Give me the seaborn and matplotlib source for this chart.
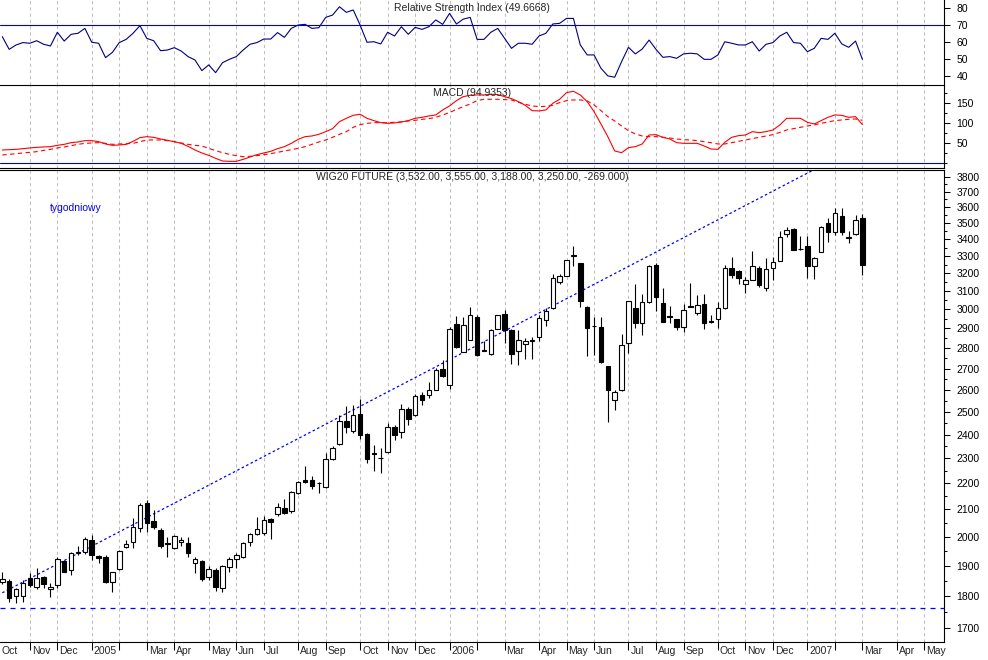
import numpy as np
import pandas as pd
import matplotlib
matplotlib.use("Agg")
import matplotlib.pyplot as plt
import matplotlib.ticker as mticker
from matplotlib.transforms import ScaledTranslation, blended_transform_factory
import seaborn as sns

# weekly bars, week ending on Friday
weeks = pd.date_range("2004-10-08", periods=126, freq="W-FRI")

opens = [1844, 1848, 1800, 1800, 1857, 1829, 1862, 1823, 1837, 1916,
         1885, 1944, 1948, 1989, 1934, 1931, 1846, 1888, 1963, 1983,
         2031, 2125, 2059, 2025, 1979, 1960, 1982, 1977, 1908, 1916,
         1861, 1885, 1826, 1895, 1923, 1929, 1980, 2009, 2013, 2065,
         2083, 2104, 2095, 2161, 2214, 2214, 2200, 2185, 2297, 2359,
         2460, 2414, 2491, 2404, 2322, 2300, 2325, 2433, 2411, 2512,
         2484, 2574, 2576, 2600, 2699, 2620, 2925, 2783, 2843, 2962,
         2792, 2771, 2897, 2978, 2894, 2787, 2820, 2838, 2855, 2943,
         3007, 3148, 3182, 3302, 3259, 3012, 2913, 2907, 2713, 2552,
         2597, 2828, 3006, 2927, 3039, 3250, 3035, 2966, 2949, 2910,
         3018, 2979, 3030, 2938, 2947, 3006, 3233, 3214, 3138, 3161,
         3233, 3118, 3229, 3273, 3431, 3463, 3340, 3360, 3239, 3323,
         3502, 3443, 3544, 3410, 3430, 3532]
highs = [1880, 1854, 1824, 1852, 1874, 1891, 1865, 1841, 1929, 1919,
         1948, 1966, 1998, 2006, 1937, 1937, 1880, 1954, 1989, 2070,
         2123, 2136, 2098, 2031, 2001, 2007, 2001, 2001, 1931, 1919,
         1897, 1891, 1903, 1929, 1943, 1981, 2015, 2073, 2076, 2067,
         2126, 2138, 2171, 2211, 2270, 2231, 2207, 2324, 2352, 2484,
         2524, 2532, 2558, 2407, 2357, 2342, 2450, 2440, 2536, 2520,
         2580, 2590, 2638, 2702, 2743, 2910, 2966, 2958, 3014, 2970,
         2836, 2897, 2972, 2998, 2898, 2890, 2853, 2855, 2972, 3007,
         3197, 3195, 3279, 3357, 3262, 3016, 2962, 2962, 2713, 2600,
         2871, 3047, 3140, 3085, 3250, 3260, 3116, 3021, 2949, 3030,
         3144, 3079, 3083, 2970, 3042, 3248, 3297, 3220, 3181, 3327,
         3240, 3287, 3297, 3451, 3477, 3467, 3422, 3422, 3297, 3481,
         3533, 3596, 3592, 3451, 3550, 3555]
lows = [1840, 1779, 1777, 1782, 1830, 1821, 1824, 1796, 1827, 1877,
        1870, 1937, 1941, 1918, 1908, 1843, 1814, 1884, 1960, 1960,
        2016, 2016, 2027, 1960, 1931, 1956, 1966, 1931, 1874, 1850,
        1852, 1817, 1814, 1880, 1893, 1925, 1968, 2005, 2005, 1991,
        2075, 2083, 2088, 2157, 2200, 2180, 2164, 2181, 2292, 2356,
        2407, 2407, 2383, 2282, 2248, 2241, 2321, 2379, 2385, 2440,
        2479, 2530, 2560, 2597, 2661, 2605, 2800, 2783, 2843, 2759,
        2784, 2764, 2897, 2824, 2721, 2718, 2748, 2748, 2838, 2914,
        3003, 3141, 3182, 3244, 3012, 2759, 2767, 2729, 2454, 2508,
        2592, 2777, 2905, 2866, 3035, 2990, 2936, 2927, 2893, 2884,
        3012, 2970, 2897, 2930, 2901, 3003, 3172, 3138, 3092, 3161,
        3125, 3098, 3161, 3273, 3416, 3336, 3336, 3172, 3170, 3323,
        3386, 3423, 3426, 3376, 3426, 3188]
closes = [1854, 1792, 1821, 1843, 1837, 1859, 1839, 1830, 1923, 1880,
          1943, 1946, 1992, 1935, 1925, 1846, 1877, 1951, 1974, 2035,
          2116, 2049, 2034, 1969, 1976, 2003, 1989, 1943, 1922, 1854,
          1888, 1830, 1897, 1923, 1937, 1977, 2011, 2029, 2061, 2055,
          2108, 2085, 2165, 2207, 2207, 2190, 2203, 2297, 2342, 2457,
          2431, 2484, 2400, 2296, 2320, 2303, 2433, 2397, 2512, 2467,
          2573, 2552, 2597, 2694, 2666, 2897, 2804, 2920, 2971, 2767,
          2784, 2891, 2972, 2894, 2771, 2841, 2836, 2840, 2955, 2993,
          3173, 3186, 3279, 3303, 3044, 2902, 2915, 2734, 2600, 2589,
          2816, 3044, 2927, 3039, 3240, 3065, 2936, 2962, 2910, 2995,
          3012, 3025, 2927, 2935, 3006, 3229, 3191, 3172, 3161, 3242,
          3133, 3225, 3267, 3412, 3457, 3336, 3342, 3239, 3291, 3477,
          3447, 3561, 3447, 3412, 3519, 3250]

rsi = [63.1, 55.6, 58.2, 59.6, 59.2, 60.7, 58.6, 57.6, 65.7, 60.5,
       64.5, 65.1, 68.0, 59.8, 59.2, 50.7, 53.8, 59.6, 61.5, 65.1,
       69.6, 62.1, 60.7, 54.8, 55.2, 56.6, 54.6, 51.3, 49.3, 43.0,
       46.4, 41.8, 47.7, 49.7, 51.3, 55.2, 58.6, 59.6, 61.7, 61.7,
       65.5, 62.7, 68.0, 70.0, 70.4, 68.0, 68.4, 74.5, 75.9, 80.8,
       77.5, 78.9, 70.0, 59.8, 60.1, 58.8, 65.7, 63.5, 69.0, 64.5,
       68.6, 67.4, 69.0, 73.0, 70.4, 76.9, 70.6, 73.5, 74.5, 61.5,
       61.5, 65.7, 68.0, 62.1, 56.2, 59.2, 59.2, 58.6, 63.5, 65.1,
       70.6, 71.0, 73.9, 73.9, 58.2, 52.3, 52.3, 44.4, 39.9, 39.1,
       48.3, 56.8, 52.9, 55.8, 61.1, 55.6, 50.9, 51.3, 50.3, 52.9,
       53.3, 52.9, 49.7, 49.7, 52.3, 60.1, 59.2, 58.2, 58.2, 60.1,
       54.6, 58.6, 59.6, 63.5, 65.7, 59.6, 59.2, 54.2, 56.2, 62.1,
       61.5, 65.1, 58.8, 56.8, 60.5, 49.67]
macd = [31.7, 32.5, 33.3, 35.0, 36.7, 38.3, 39.2, 40.0, 43.3, 45.8,
        50.0, 51.7, 55.0, 55.0, 52.5, 46.7, 43.3, 44.2, 45.8, 53.3,
        62.5, 65.0, 63.3, 59.2, 55.8, 52.5, 48.3, 40.8, 31.7, 24.2,
        18.3, 10.8, 4.2, 3.3, 3.3, 8.3, 14.2, 20.0, 24.2, 28.3,
        35.0, 40.0, 48.3, 58.3, 65.0, 66.7, 70.8, 77.5, 85.0, 102.5,
        110.8, 118.3, 120.8, 110.8, 105.0, 100.0, 98.3, 99.2, 101.7, 105.0,
        110.8, 113.3, 116.7, 119.2, 131.7, 141.7, 155.0, 165.0, 168.3, 169.2,
        169.2, 170.8, 170.0, 165.0, 160.0, 152.5, 143.3, 130.0, 129.2, 131.7,
        148.3, 158.3, 175.0, 178.3, 169.2, 152.5, 127.5, 96.7, 65.0, 29.2,
        25.0, 37.5, 40.0, 46.7, 69.2, 70.0, 63.3, 59.2, 50.0, 48.3,
        48.3, 48.3, 41.7, 34.2, 33.3, 50.8, 63.3, 67.5, 69.2, 77.5,
        75.0, 77.5, 81.7, 94.2, 110.8, 110.8, 110.8, 100.8, 96.7, 105.0,
        113.3, 119.2, 118.3, 113.3, 115.0, 94.94]
signal = [19.2, 20.8, 22.5, 24.2, 25.8, 27.5, 30.8, 33.3, 36.7, 39.2,
          42.5, 45.8, 48.3, 49.2, 50.0, 48.3, 45.8, 46.7, 47.5, 48.3,
          52.5, 56.7, 56.7, 56.7, 55.0, 52.5, 49.2, 45.8, 43.3, 41.7,
          35.8, 30.0, 25.0, 20.8, 17.5, 15.0, 15.8, 17.5, 20.0, 22.5,
          25.8, 29.2, 32.5, 35.8, 40.0, 45.8, 51.7, 56.7, 63.3, 70.8,
          77.5, 88.3, 95.0, 98.3, 100.0, 100.0, 100.0, 100.8, 101.7, 104.2,
          105.8, 108.3, 110.0, 113.3, 119.2, 125.0, 133.3, 140.0, 146.7, 155.0,
          158.3, 158.3, 158.3, 157.5, 156.7, 150.8, 145.8, 141.7, 140.0, 140.8,
          143.3, 150.0, 155.0, 156.7, 156.7, 154.2, 144.2, 130.0, 115.0, 104.2,
          91.7, 80.0, 71.7, 66.7, 65.0, 65.0, 63.3, 61.7, 59.2, 57.5,
          56.7, 55.0, 52.5, 50.0, 46.7, 46.7, 50.0, 53.3, 56.7, 60.0,
          63.3, 66.7, 70.0, 75.8, 81.7, 85.0, 88.3, 91.7, 94.2, 98.3,
          101.7, 105.0, 106.7, 108.3, 109.2, 105.8]

# trend line and support level drawn on the price chart
trend_dates = pd.to_datetime(["2004-10-08", "2007-01-12"])
trend_prices = [1810, 3850]
support_level = 1763
rsi_level = 70

price_ticks = list(range(1700, 3900, 100))
rsi_ticks = [40, 50, 60, 70, 80]
macd_ticks = [50, 100, 150]

df = pd.DataFrame({"week": weeks, "open": opens, "high": highs, "low": lows,
                   "close": closes, "rsi": rsi, "macd": macd, "signal": signal})

sns.set_style("white", {"axes.edgecolor": "black", "axes.linewidth": 0.8})
plt.rcParams["font.family"] = ["Liberation Sans", "DejaVu Sans"]
plt.rcParams["font.size"] = 7.5

fig = plt.figure(figsize=(9.88, 6.6), dpi=100)
W = 944 / 988
ax_rsi = fig.add_axes([0, 1 - 85 / 660, W, 85 / 660])
ax_macd = fig.add_axes([0, 1 - 168 / 660, W, 83 / 660])
ax = fig.add_axes([0, 1 - 642 / 660, W, 472 / 660])

x_left = weeks[0] - pd.Timedelta(days=2.34)
x_right = weeks[0] + pd.Timedelta(days=958)

# month grid: first weekly bar of every month
fridays = pd.Series(pd.date_range("2004-10-01", "2007-05-25", freq="W-FRI"))
month_starts = fridays.groupby([fridays.dt.year, fridays.dt.month]).first().tolist()

grid_kw = dict(color="#bdbdbd", lw=0.75, ls=(0, (3, 3)), zorder=0)
for a in (ax_rsi, ax_macd, ax):
    for d in month_starts:
        a.axvline(d, **grid_kw)
    a.set_xlim(x_left, x_right)
    a.spines["left"].set_visible(False)
    a.yaxis.tick_right()
    a.tick_params(axis="y", which="both", direction="out", right=True, left=False,
                  colors="black", width=0.75, labelsize=7.5, pad=5)
    a.tick_params(axis="y", which="major", length=4)
    a.tick_params(axis="y", which="minor", length=2)

# RSI panel
sns.lineplot(data=df, x="week", y="rsi", ax=ax_rsi, color="#000080", linewidth=0.8)
ax_rsi.axhline(rsi_level, color="#0000cc", lw=0.8)
ax_rsi.set_ylim(34.5, 84.8)
ax_rsi.set_yticks(rsi_ticks)
ax_rsi.spines["top"].set_visible(False)
ax_rsi.spines["bottom"].set_visible(False)
ax_rsi.set_xticks([])
ax_rsi.set_xlabel("")
ax_rsi.set_ylabel("")
ax_rsi.text(0.5, 1 - 3 / 85, "Relative Strength Index (49.6668)", ha="center", va="top",
            transform=ax_rsi.transAxes)

# MACD panel (its top spine separates it from the RSI panel)
sns.lineplot(data=df, x="week", y="macd", ax=ax_macd, color="red", linewidth=0.8)
sns.lineplot(data=df, x="week", y="signal", ax=ax_macd, color="red", linewidth=0.8,
             linestyle=(0, (4, 3)))
ax_macd.axhline(0, color="#0000cc", lw=0.8)
ax_macd.set_ylim(-13.3, 194)
ax_macd.set_yticks(macd_ticks)
ax_macd.yaxis.set_minor_locator(mticker.FixedLocator([0, 25, 75, 125, 175]))
ax_macd.spines["top"].set_visible(True)
ax_macd.set_xticks([])
ax_macd.set_xlabel("")
ax_macd.set_ylabel("")
ax_macd.text(0.5, 1 - 3 / 83, "MACD (94.9353)", ha="center", va="top",
             transform=ax_macd.transAxes)

# price panel, log scale
o = df["open"].to_numpy(float)
c = df["close"].to_numpy(float)
up = c >= o
body_low = np.minimum(o, c)
body_h = np.maximum(np.abs(c - o), 1.0)
ax.vlines(df["week"], df["low"], df["high"], color="black", lw=0.8, zorder=2)
ax.bar(df["week"], body_h, bottom=body_low, width=4.6,
       color=np.where(up, "white", "black"), edgecolor="black", linewidth=0.8, zorder=3)
ax.plot(trend_dates, trend_prices, color="#0000ff", lw=0.9, ls=(0, (2, 2)), zorder=1)
ax.axhline(support_level, color="#0000ff", lw=0.9, ls=(0, (4, 4)), zorder=1)

ax.set_yscale("log")
ax.set_ylim(1658, 3847)
ax.yaxis.set_major_locator(mticker.FixedLocator(price_ticks))
ax.yaxis.set_major_formatter(mticker.FixedFormatter([str(p) for p in price_ticks]))
ax.yaxis.set_minor_locator(mticker.FixedLocator([p + 50 for p in range(1600, 3900, 100)]))
ax.yaxis.set_minor_formatter(mticker.NullFormatter())
ax.set_xlabel("")
ax.set_ylabel("")

ax.text(0.5, 1 - 2 / 472, "WIG20 FUTURE (3,532.00, 3,555.00, 3,188.00, 3,250.00, -269.000)",
        ha="center", va="top", transform=ax.transAxes)
ax.text(50 / 944, 1 - 33 / 472, "tygodniowy", color="#0000ff", ha="left", va="top",
        transform=ax.transAxes)

# month axis
visible = [d for d in month_starts if d >= x_left]
ax.set_xticks(visible)
ax.set_xticklabels([])
ax.tick_params(axis="x", which="major", bottom=True, direction="out", length=6,
               width=0.75, colors="black")
trans = blended_transform_factory(ax.transData, ax.transAxes) + \
    ScaledTranslation(2 / 100, 0, fig.dpi_scale_trans)
for d in month_starts:
    if d.month == 1:
        lab = str(d.year)
    elif d.month == 2:
        lab = ""
    else:
        lab = d.strftime("%b")
    ax.text(max(d, x_left), -4 / 472, lab, ha="left", va="top", transform=trans,
            clip_on=False)

fig.savefig("out.png", dpi=100)
